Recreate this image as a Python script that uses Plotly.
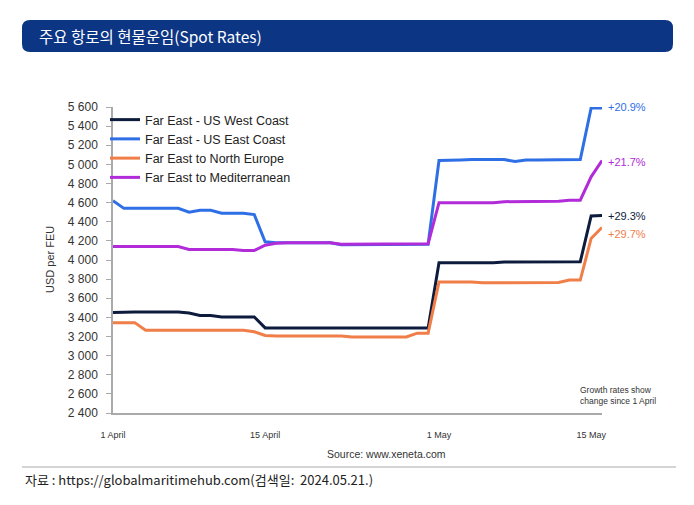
import plotly.graph_objects as go
import pandas as pd

# ---- data ----
dates = pd.date_range("2024-04-01", "2024-05-16", freq="D")

us_west = ([3450] + [3455] * 6 + [3445] + [3420] * 2 + [3405] * 4 + [3290] * 16
           + [3970] * 6 + [3978] * 5 + [3982] * 3 + [4460, 4465])
us_east = ([4620] + [4540] * 6 + [4500] + [4520] * 2 + [4490] * 3 + [4475] + [4190]
           + [4180] * 6 + [4160] * 3 + [4165] * 6
           + [5040, 5040, 5045] + [5050] * 4 + [5030] + [5045] * 3 + [5050] * 3 + [5590, 5590])
north_europe = ([3345] * 3 + [3265] * 10 + [3250, 3210] + [3205] * 7 + [3195] * 6 + [3235] * 2
                + [3770] * 4 + [3762] * 7 + [3765] + [3790] * 2 + [4225, 4340])
mediterranean = ([4140] * 7 + [4110] * 5 + [4100] * 2 + [4155, 4175] + [4180] * 5 + [4165] * 7
                 + [4170] * 2 + [4600] * 6 + [4610] * 5 + [4615] + [4625] * 2 + [4870, 5040])

series_names = ["Far East - US West Coast", "Far East - US East Coast",
                "Far East to North Europe", "Far East to Mediterranean"]
series_values = [us_west, us_east, north_europe, mediterranean]
series_colors = ["#0d1b3d", "#2f6fe6", "#f07e48", "#b12cd8"]
growth_labels = ["+29.3%", "+20.9%", "+29.7%", "+21.7%"]
label_yshift = [0, 1, -7, -1]

x_tick_vals = ["2024-04-01", "2024-04-15", "2024-05-01", "2024-05-15"]
x_tick_text = ["1 April", "15 April", "1 May", "15 May"]
y_tick_vals = list(range(2400, 5601, 200))

# ---- layout helpers (screen pixel -> paper) ----
OFF = 8                      # page body margin offset
L, T, W, H = 113, 107, 489, 306
def px(x):
    return (x - L) / W
def py(y):
    return (T + H - y) / H

fig = go.Figure()
for name, vals, col in zip(series_names, series_values, series_colors):
    fig.add_trace(go.Scatter(x=dates, y=vals, name=name, mode="lines",
                             line=dict(color=col, width=3), hoverinfo="skip"))

annotations = []
for vals, col, lab, ys in zip(series_values, series_colors, growth_labels, label_yshift):
    annotations.append(dict(x=dates[-1], y=vals[-1], xref="x", yref="y", text=lab,
                            showarrow=False, xanchor="left", yanchor="middle",
                            xshift=4, yshift=ys,
                            font=dict(family="Liberation Sans", size=11, color=col)))

# title bar text
annotations.append(dict(x=px(37), y=py(36), xref="paper", yref="paper",
                        text="주요 항로의 현물운임(Spot Rates)", showarrow=False,
                        xanchor="left", yanchor="middle",
                        font=dict(family="Noto Sans CJK KR", size=15.5, color="white")))
# y axis title
annotations.append(dict(x=px(50), y=py(260), xref="paper", yref="paper",
                        text="USD per FEU", showarrow=False, textangle=-90,
                        xanchor="center", yanchor="middle",
                        font=dict(family="Liberation Sans", size=11, color="#333333")))
# growth note
annotations.append(dict(x=px(578), y=py(395), xref="paper", yref="paper",
                        text="Growth rates show<br>change since 1 April", showarrow=False,
                        xanchor="left", yanchor="middle", align="left",
                        font=dict(family="Liberation Sans", size=8.5, color="#333333")))
# source
annotations.append(dict(x=px(386), y=py(454), xref="paper", yref="paper",
                        text="Source: www.xeneta.com", showarrow=False,
                        xanchor="center", yanchor="middle",
                        font=dict(family="Liberation Sans", size=10.5, color="#333333")))
# bottom credit
annotations.append(dict(x=px(23), y=py(479), xref="paper", yref="paper",
                        text="자료 : https://globalmaritimehub.com(검색일:  2024.05.21.)",
                        showarrow=False, xanchor="left", yanchor="middle",
                        font=dict(family="Noto Sans CJK KR", size=13, color="#222222")))

# rounded title bar shape
x0, x1, y0, y1 = px(22), px(673), py(52), py(20)
rx, ry = 8 / W, 8 / H
path = (f"M {x0+rx},{y1} L {x1-rx},{y1} Q {x1},{y1} {x1},{y1-ry} "
        f"L {x1},{y0+ry} Q {x1},{y0} {x1-rx},{y0} L {x0+rx},{y0} "
        f"Q {x0},{y0} {x0},{y0+ry} L {x0},{y1-ry} Q {x0},{y1} {x0+rx},{y1} Z")
shapes = [
    dict(type="path", path=path, xref="paper", yref="paper",
         fillcolor="#0c3584", line=dict(width=0), layer="below"),
    dict(type="line", xref="paper", yref="paper", x0=px(22), x1=px(676),
         y0=py(467), y1=py(467), line=dict(color="#aaaaaa", width=1.2)),
]

ml, mt = L - OFF, T - OFF
fig.update_layout(
    width=694, height=505,
    margin=dict(l=ml, r=694 - ml - W, t=mt, b=505 - mt - H),
    paper_bgcolor="white", plot_bgcolor="white",
    separators=". ",
    showlegend=True,
    legend=dict(x=px(105), y=py(105), xanchor="left", yanchor="top",
                bgcolor="rgba(0,0,0,0)", tracegroupgap=0,
                font=dict(family="Liberation Sans", size=12.5, color="#222222"),
                itemwidth=30),
    xaxis=dict(range=[dates[0], dates[-1]], tickvals=x_tick_vals, ticktext=x_tick_text,
               showgrid=False, zeroline=False, showline=True, linecolor="#aaaaaa",
               linewidth=1.5, ticks="", ticklabelstandoff=12,
               tickfont=dict(family="Liberation Sans", size=9, color="#333333")),
    yaxis=dict(range=[2400, 5600], tickvals=y_tick_vals, tickformat=",d",
               showgrid=False, zeroline=False, showline=True, linecolor="#aaaaaa",
               linewidth=1.5, ticks="outside", ticklen=5, tickcolor="#aaaaaa",
               tickwidth=1.2, ticklabelstandoff=6,
               tickfont=dict(family="Liberation Sans", size=12, color="#333333")),
    annotations=annotations, shapes=shapes,
)

fig.write_html("out.html")
